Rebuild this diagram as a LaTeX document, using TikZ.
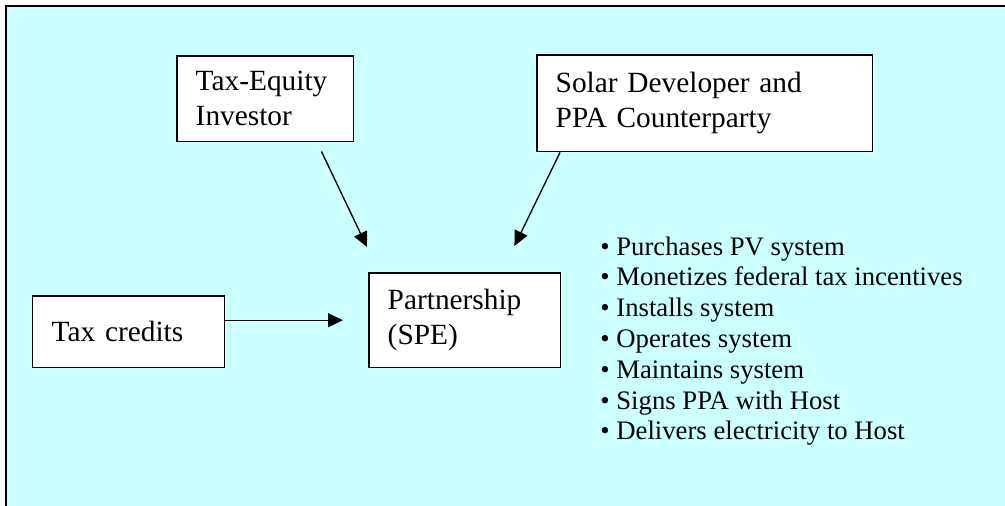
\documentclass[tikz,border=0pt]{standalone}
\usepackage{fontspec}
\setmainfont{Liberation Serif}
\usepackage{xcolor}
\usepackage{tikz}
\usetikzlibrary{calc}
\usetikzlibrary{arrows.meta}
\usetikzlibrary{positioning}
\definecolor{panel}{HTML}{CCFFFF}
\tikzset{>={Triangle[length=0.3cm, width=0.28cm]}}
\tikzstyle{box} = [draw, fill=white, line width=0.03cm, anchor=north west, align=left, inner xsep=0.38cm, inner ysep=0, font=\fontsize{16.7}{19.9}\selectfont]
\tikzstyle{arr} = [->, line width=0.027cm]
\tikzstyle{item} = [anchor=base west, inner sep=0, font=\fontsize{15.2}{17.5}\selectfont]

\begin{document}
\begin{tikzpicture}[x=0.02cm, y=-0.02cm]
\useasboundingbox (0, 0) rectangle (1005, 505);
\clip (0, 0) rectangle (1005, 505);
\fill [panel] (6, 6) rectangle (1010, 510);
\draw [line width=0.045cm] (6, 510) -- (6, 6) -- (1010, 6);
% boxes
\node [box, text width=2.78cm, minimum height=1.72cm] (tei) at (176, 55) {Tax-Equity\\Investor};
\node [box, text width=5.96cm, minimum height=1.94cm] (sdev) at (536, 54) {Solar Developer and\\PPA Counterparty};
\node [box, text width=3.08cm, minimum height=1.44cm] (tc) at (32, 295) {Tax credits};
\node [box, text width=3.08cm, minimum height=1.90cm] (spe) at (368, 272) {Partnership\\(SPE)};
% arrows
\draw [arr] ($(tei.south east)+(-33, 9)$) to ($(spe.north west)+(-1, -25)$);
\draw [arr] ($(sdev.south west)+(24, 0)$) to ($(spe.north east)+(-47, -26)$);
\draw [arr, shorten >=0.5cm] (tc.east |- spe.west) to (spe.west);
% tasks of the partnership
\foreach \t [count=\i] in {Purchases PV system, Monetizes federal tax incentives, Installs system, Operates system, Maintains system, Signs PPA with Host, Delivers electricity to Host}
  \node [item] (task\i) at (600, {255 + 30.8*(\i-1)}) {• \t};
\end{tikzpicture}
\end{document}
